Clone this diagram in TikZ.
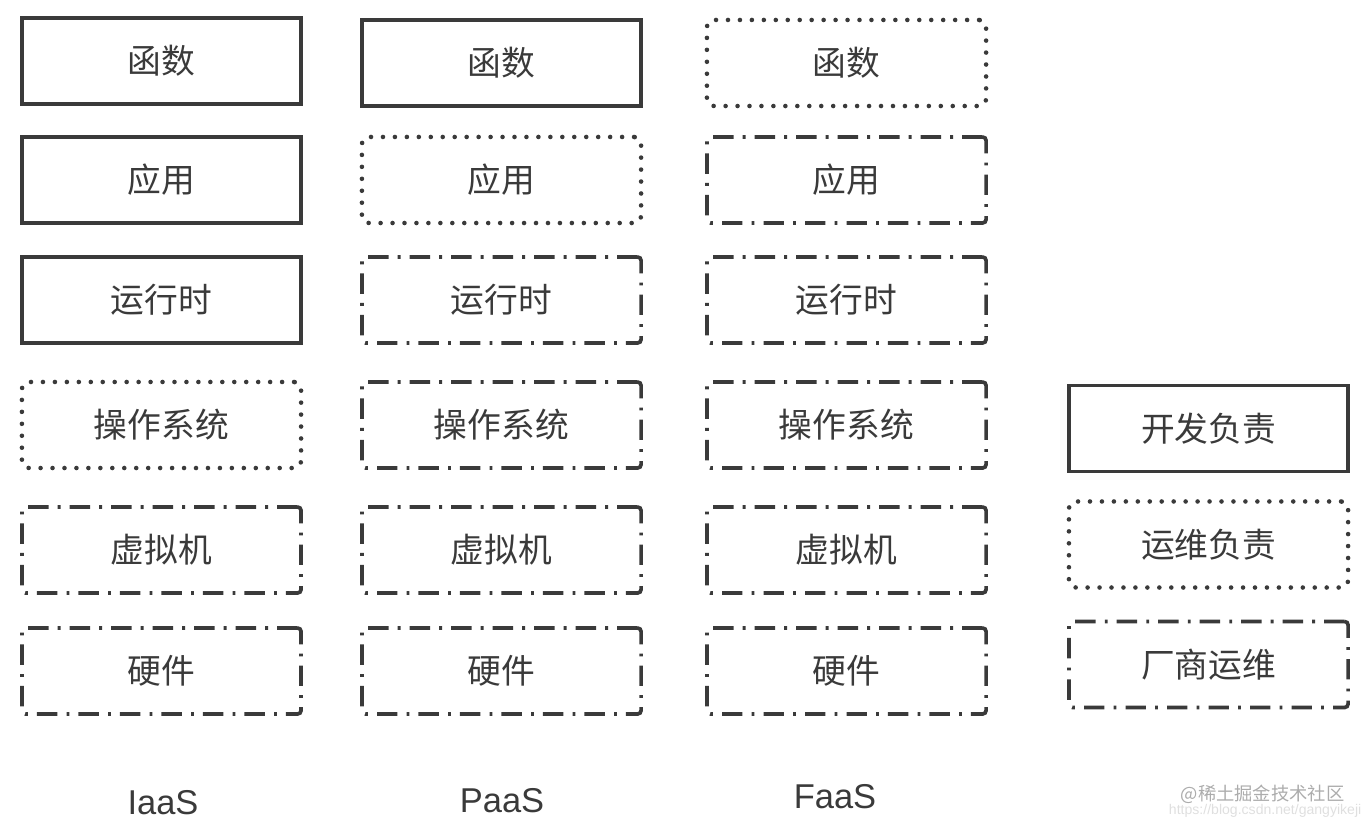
\documentclass[tikz,border=0pt]{standalone}
\usepackage{fontspec}
\setmainfont{Noto Sans CJK SC}
\newfontfamily\latinfont{Liberation Sans}
\usetikzlibrary{positioning}

\definecolor{inkgray}{HTML}{3A3A3A}
\tikzset{
  layer/.style={
    minimum width=2.79cm, minimum height=0.86cm,
    inner sep=0pt, text=inkgray, font=\fontsize{9.6}{11}\selectfont
  },
  devbox/.style={layer, draw=inkgray, line width=1.05pt},
  opsbox/.style={layer, draw=inkgray, line width=1.3pt, line cap=round,
    rounded corners=2pt, dash pattern=on 0pt off 3.4pt},
  vendorbox/.style={layer, draw=inkgray, line width=1.05pt,
    rounded corners=1pt, dash pattern=on 5.8pt off 2.6pt on 0.8pt off 2.6pt},
  modellabel/.style={text=inkgray, font=\latinfont\fontsize{9.8}{11}\selectfont}
}

\begin{document}
\begin{tikzpicture}[x=0.01cm, y=-0.01cm]
  \useasboundingbox (0,0) rectangle (1368,828);

  % IaaS stack
  \foreach \i/\y/\txt/\sty in {
    1/61/函数/devbox, 2/180/应用/devbox, 3/300/运行时/devbox,
    4/425/操作系统/opsbox, 5/550/虚拟机/vendorbox, 6/671/硬件/vendorbox} {
    \node[\sty] (iaas\i) at (161.5,\y) {\txt};
  }

  % PaaS stack
  \foreach \i/\y/\txt/\sty in {
    1/63/函数/devbox, 2/180/应用/opsbox, 3/300/运行时/vendorbox,
    4/425/操作系统/vendorbox, 5/550/虚拟机/vendorbox, 6/671/硬件/vendorbox} {
    \node[\sty] (paas\i) at (501.5,\y) {\txt};
  }

  % FaaS stack
  \foreach \i/\y/\txt/\sty in {
    1/63/函数/opsbox, 2/180/应用/vendorbox, 3/300/运行时/vendorbox,
    4/425/操作系统/vendorbox, 5/550/虚拟机/vendorbox, 6/671/硬件/vendorbox} {
    \node[\sty] (faas\i) at (846.5,\y) {\txt};
  }

  % Legend
  \node[devbox] (devkey) at (1208.5,428.5) {开发负责};
  \node[opsbox] (opskey) at (1208.5,544.5) {运维负责};
  \node[vendorbox] (vendorkey) at (1208.5,664.5) {厂商运维};

  % Service models
  \node[modellabel] (iaaslabel) at (163,803) {IaaS};
  \node[modellabel] (paaslabel) at (502,801) {PaaS};
  \node[modellabel] (faaslabel) at (835,797) {FaaS};

  % Watermark
  \node[anchor=east, text=gray!65, inner sep=0pt,
    font=\fontsize{5.2}{6}\selectfont] (mark) at (1345,794) {@稀土掘金技术社区};
  \node[anchor=east, text=gray!25, inner sep=0pt,
    font=\latinfont\fontsize{4}{5}\selectfont] (url) at (1362,811) {https://blog.csdn.net/gangyikeji};
\end{tikzpicture}
\end{document}
